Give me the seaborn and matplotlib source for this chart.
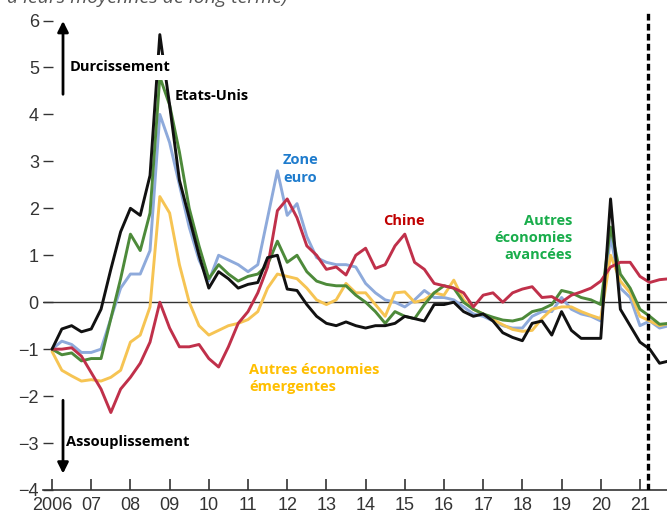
import numpy as np
import pandas as pd
import matplotlib
matplotlib.use("Agg")
import matplotlib.pyplot as plt
import seaborn as sns

# --- data (quarterly, 2006 -> 2021) ---
start_year = 2006
etats_unis = [-1.0, -0.57, -0.5, -0.63, -0.57, -0.15, 0.7, 1.5, 2.0, 1.85, 2.7, 5.7,
              4.2, 2.6, 1.8, 1.0, 0.3, 0.65, 0.5, 0.3, 0.38, 0.42, 0.95, 1.0,
              0.28, 0.25, -0.05, -0.3, -0.45, -0.5, -0.42, -0.5, -0.55, -0.5, -0.5, -0.45,
              -0.3, -0.35, -0.4, -0.05, -0.05, 0.0, -0.2, -0.3, -0.25, -0.4, -0.65, -0.75,
              -0.82, -0.45, -0.4, -0.7, -0.2, -0.6, -0.77, -0.77, -0.77, 2.2, -0.15, -0.5,
              -0.85, -1.0, -1.3, -1.25]
avancees = [-1.0, -1.12, -1.08, -1.25, -1.2, -1.2, -0.35, 0.5, 1.45, 1.1, 1.9, 4.8,
            4.2, 3.2, 2.0, 1.2, 0.5, 0.8, 0.6, 0.45, 0.55, 0.6, 0.8, 1.3,
            0.85, 1.0, 0.65, 0.45, 0.38, 0.35, 0.35, 0.15, 0.0, -0.2, -0.45, -0.2,
            -0.3, -0.35, -0.05, 0.2, 0.35, 0.3, 0.0, -0.15, -0.25, -0.32, -0.38, -0.4,
            -0.35, -0.2, -0.15, -0.05, 0.25, 0.2, 0.1, 0.05, -0.05, 1.6, 0.6, 0.3,
            -0.15, -0.3, -0.47, -0.45]
zone_euro = [-1.0, -0.83, -0.9, -1.07, -1.07, -1.0, -0.35, 0.3, 0.6, 0.6, 1.1, 4.0,
             3.4, 2.5, 1.6, 0.9, 0.45, 1.0, 0.9, 0.8, 0.65, 0.8, 1.8, 2.8,
             1.85, 2.1, 1.4, 0.95, 0.85, 0.8, 0.8, 0.75, 0.4, 0.2, 0.05, 0.0,
             -0.1, 0.05, 0.25, 0.1, 0.1, 0.05, -0.1, -0.25, -0.3, -0.4, -0.5, -0.55,
             -0.55, -0.3, -0.2, -0.2, 0.1, -0.15, -0.25, -0.3, -0.4, 1.4, 0.3, 0.1,
             -0.5, -0.4, -0.55, -0.5]
emergentes = [-1.05, -1.45, -1.57, -1.68, -1.65, -1.68, -1.6, -1.45, -0.85, -0.7, -0.1, 2.25,
              1.9, 0.8, 0.0, -0.5, -0.7, -0.6, -0.5, -0.45, -0.37, -0.2, 0.3, 0.6,
              0.55, 0.5, 0.3, 0.05, -0.05, 0.05, 0.4, 0.2, 0.2, -0.05, -0.3, 0.2,
              0.22, 0.0, 0.05, 0.2, 0.15, 0.47, 0.05, -0.15, -0.25, -0.37, -0.48, -0.58,
              -0.62, -0.6, -0.35, -0.15, -0.1, -0.1, -0.2, -0.28, -0.35, 1.0, 0.45, 0.2,
              -0.3, -0.4, -0.5, -0.45]
chine = [-1.0, -1.0, -0.97, -1.15, -1.5, -1.85, -2.35, -1.85, -1.6, -1.3, -0.85, 0.0,
         -0.55, -0.95, -0.95, -0.9, -1.2, -1.38, -0.95, -0.45, -0.2, 0.2, 0.75, 1.95,
         2.2, 1.8, 1.2, 1.0, 0.7, 0.75, 0.58, 1.0, 1.15, 0.72, 0.8, 1.2,
         1.45, 0.85, 0.7, 0.4, 0.35, 0.3, 0.2, -0.1, 0.15, 0.2, 0.0, 0.2,
         0.28, 0.33, 0.1, 0.12, 0.0, 0.15, 0.22, 0.3, 0.45, 0.75, 0.85, 0.85,
         0.55, 0.42, 0.48, 0.5]

years = list(range(2006, 2022))
year_labels = ["2006"] + [f"{y % 100:02d}" for y in years[1:]]
yticks = list(range(-4, 7))
cutoff = 2021.2

t = start_year + np.arange(len(chine)) / 4

sns.set_style("white")
plt.rcParams['font.family'] = ['Liberation Sans', 'DejaVu Sans']

fig = plt.figure(figsize=(6.67, 5.16), dpi=100)
ax = fig.add_axes([0.0645, 0.0504, 0.9355, 0.928])

series = [
    (zone_euro, "#8eaadb", 2),
    (emergentes, "#f6c453", 3),
    (avancees, "#4d8a3a", 4),
    (chine, "#c0304a", 5),
    (etats_unis, "#111111", 6),
]
for vals, color, z in series:
    sns.lineplot(x=t, y=vals, color=color, lw=2.1, ax=ax, zorder=z)

ax.axhline(0, color="#333333", lw=1, zorder=1)
ax.axvline(cutoff, color="black", lw=2.4, ls=(0, (2, 1)), zorder=7)

ax.set_xlim(2005.77, 2021.69)
ax.set_ylim(-4, 6.2)
ax.set_xticks(years)
ax.set_xticklabels(year_labels)
ax.set_yticks(yticks)
ax.tick_params(axis="x", bottom=True, direction="in", length=8, width=1.2, color="#333333",
               labelsize=13, pad=5, labelcolor="#333333")
ax.tick_params(axis="y", left=True, direction="in", length=7, width=1, color="#333333",
               labelsize=13, pad=3, labelcolor="#333333")
for s in ["left", "top", "right"]:
    ax.spines[s].set_visible(False)
ax.spines["bottom"].set_color("#333333")
ax.spines["bottom"].set_linewidth(1.2)

lab = dict(family="Open Sans", weight="bold", fontsize=10.5, zorder=9)
ax.text(2006.46, 5.0, "Durcissement", color="black", ha="left", va="center",
        bbox=dict(facecolor="white", edgecolor="none", pad=4), **lab)
ax.text(2009.14, 4.39, "Etats-Unis", color="black", ha="left", va="center", **lab)
ax.text(2011.89, 2.84, "Zone\neuro", color="#1f7ccd", ha="left", va="center",
        linespacing=1.3, **lab)
ax.text(2014.44, 1.73, "Chine", color="#c00000", ha="left", va="center", **lab)
ax.text(2019.27, 1.37, "Autres\néconomies\navancées", color="#19ad4b", ha="right",
        va="center", linespacing=1.3, **lab)
ax.text(2011.03, -1.63, "Autres économies\némergentes", color="#ffbf00", ha="left",
        va="center", linespacing=1.3, **lab)
ax.text(2006.36, -2.97, "Assouplissement", color="black", ha="left", va="center", **lab)

arrow = dict(arrowstyle="-|>", color="black", lw=2, mutation_scale=16)
ax.annotate("", xy=(2006.28, 6.05), xytext=(2006.28, 4.37), arrowprops=arrow,
            annotation_clip=False)
ax.annotate("", xy=(2006.28, -3.71), xytext=(2006.28, -2.03), arrowprops=arrow,
            annotation_clip=False)

# subtitle line cut by the top edge, as in the source figure
fig.text(0.01, 1 - 3 / 516, "à leurs moyennes de long terme)", family="Open Sans",
         style="italic", fontsize=14, color="#555555", ha="left", va="baseline")

fig.savefig("out.png", dpi=100)
